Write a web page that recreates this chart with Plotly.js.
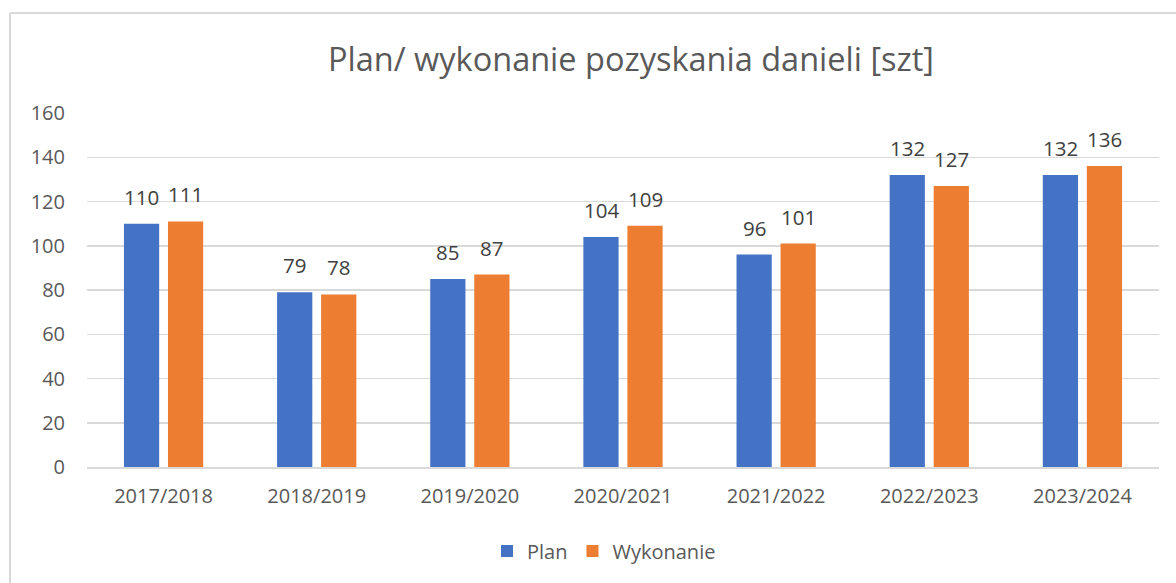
<!DOCTYPE html>
<html>
<head>
<meta charset="utf-8">
<script src="https://cdn.plot.ly/plotly-3.0.1.min.js"></script>
<style>html,body{margin:0;padding:0;background:#fff;}#chart{width:1176px;height:583px;}</style>
</head>
<body>
<div id="chart"></div>
<script>
const categories = ["2017/2018","2018/2019","2019/2020","2020/2021","2021/2022","2022/2023","2023/2024"];
const planValues = [110, 79, 85, 104, 96, 132, 132];
const wykonanieValues = [111, 78, 87, 109, 101, 127, 136];
const seriesNames = ["Plan", "Wykonanie"];
const yTicks = [0, 20, 40, 60, 80, 100, 120, 140, 160];

const FONT = '"Open Sans", "Noto Sans", sans-serif';
const labelFont = {family: FONT, size: 20.5, color: '#404040'};

const traces = [
  {type:'bar', name: seriesNames[0], x: categories, y: planValues,
   marker:{color:'#4472C4'}, hoverinfo:'x+y'},
  {type:'bar', name: seriesNames[1], x: categories, y: wykonanieValues,
   marker:{color:'#ED7D31'}, hoverinfo:'x+y'}
];

// data labels placed through the axis scales, offset to each bar of the group
const annotations = [];
[[planValues, -22], [wykonanieValues, 22]].forEach(([vals, dx]) => {
  vals.forEach((v, i) => {
    annotations.push({x: categories[i], y: v, xref:'x', yref:'y', text: String(v), showarrow:false,
      xanchor:'center', yanchor:'bottom', xshift: dx, yshift: 11, font: labelFont});
  });
});

const layout = {
  width:1176, height:583,
  margin:{l:87, r:17, t:113, b:116, pad:0},
  paper_bgcolor:'#fff', plot_bgcolor:'#fff',
  font:{family: FONT, color:'#595959'},
  title:{text:'Plan/ wykonanie pozyskania danieli [szt]', font:{family: FONT, size:32.5, color:'#595959'},
         x:631/1176, xanchor:'center', y:1-60/583, yanchor:'middle', xref:'container', yref:'container'},
  barmode:'group', bargap:0.425, bargroupgap:0.2,
  xaxis:{type:'category', showgrid:false, zeroline:false, showline:true, linecolor:'#d9d9d9', linewidth:1.5,
         ticks:'', tickfont:{family: FONT, size:20, color:'#595959'}, ticklabelstandoff:10, fixedrange:true},
  yaxis:{range:[0,160], tickvals:yTicks, ticktext:yTicks.map(String), showgrid:true, gridcolor:'#d9d9d9', gridwidth:1.5,
         zeroline:false, showline:false, ticks:'', tickfont:{family: FONT, size:20, color:'#595959'},
         ticklabelstandoff:21, fixedrange:true},
  showlegend:true,
  legend:{orientation:'h', xref:'container', yref:'container', x:604/1176, xanchor:'center', y:1-551/583, yanchor:'middle',
          font:{family: FONT, size:20, color:'#595959'}, itemwidth:30, traceorder:'normal'},
  annotations: annotations,
  shapes:[
    {type:'line', xref:'paper', yref:'paper', x0:(10-87)/1072, x1:(10-87)/1072, y0:(467-600)/354, y1:(467-13)/354,
     line:{color:'#d9d9d9', width:2}},
    {type:'line', xref:'paper', yref:'paper', x0:(10-87)/1072, x1:(1200-87)/1072, y0:(467-13)/354, y1:(467-13)/354,
     line:{color:'#d9d9d9', width:2}}
  ]
};

Plotly.newPlot('chart', traces, layout, {displayModeBar:false, staticPlot:true});
</script>
</body>
</html>
